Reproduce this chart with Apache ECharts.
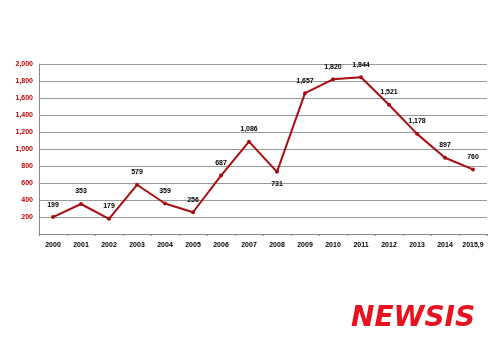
<!DOCTYPE html>
<html>
<head>
<meta charset="UTF-8">
<script src="https://cdn.jsdelivr.net/npm/echarts@6/dist/echarts.min.js"></script>
<style>
  html, body { margin: 0; padding: 0; background: #fff; }
  #main { width: 500px; height: 353px; }
</style>
</head>
<body>
<div id="main"></div>
<script>
var years = ['2000','2001','2002','2003','2004','2005','2006','2007','2008','2009','2010','2011','2012','2013','2014','2015,9'];
var values = [199, 353, 179, 579, 359, 256, 687, 1086, 731, 1657, 1820, 1844, 1521, 1178, 897, 760];

var myChart = echarts.init(document.getElementById('main'));
var option = {
  animation: false,
  grid: { left: 39, right: 13, top: 64, bottom: 119 },
  xAxis: {
    type: 'category',
    data: years,
    boundaryGap: true,
    axisLine: { lineStyle: { color: '#888', width: 1 } },
    axisTick: { show: true, length: 2, lineStyle: { color: '#888' } },
    axisLabel: { color: '#000', fontSize: 7, fontWeight: 'bold', fontFamily: 'Arial, Liberation Sans', margin: 8, interval: 0 }
  },
  yAxis: {
    type: 'value',
    min: 0, max: 2000, interval: 200,
    axisLine: { show: true, lineStyle: { color: '#888' } },
    axisTick: { show: false },
    splitLine: { lineStyle: { color: '#999', width: 1 } },
    axisLabel: {
      color: '#c00000', fontSize: 7, fontWeight: 'bold', fontFamily: 'Arial, Liberation Sans', margin: 6,
      formatter: function (v) { return v === 0 ? '' : v.toLocaleString('en-US'); }
    }
  },
  series: [{
    type: 'line',
    data: values.map(function (v, i) {
      return i === 8 ? { value: v, label: { position: 'bottom' } } : v;
    }),
    lineStyle: { color: '#a80d12', width: 2 },
    itemStyle: { color: '#a80d12' },
    symbol: 'circle',
    symbolSize: 4,
    label: {
      show: true, position: 'top', distance: 7,
      color: '#000', fontSize: 7, fontWeight: 'bold', fontFamily: 'Arial, Liberation Sans',
      formatter: function (p) { return p.value.toLocaleString('en-US'); }
    }
  }],
  graphic: [{
    type: 'text',
    left: 351, top: 305,
    style: {
      text: 'NEWSIS',
      fill: '#e8121f',
      font: 'italic 900 28px "DejaVu Sans", Arial',
      shadowColor: 'rgba(0,0,0,0.35)', shadowBlur: 3, shadowOffsetX: 2, shadowOffsetY: 2
    }
  }]
};
myChart.setOption(option);
</script>
</body>
</html>
